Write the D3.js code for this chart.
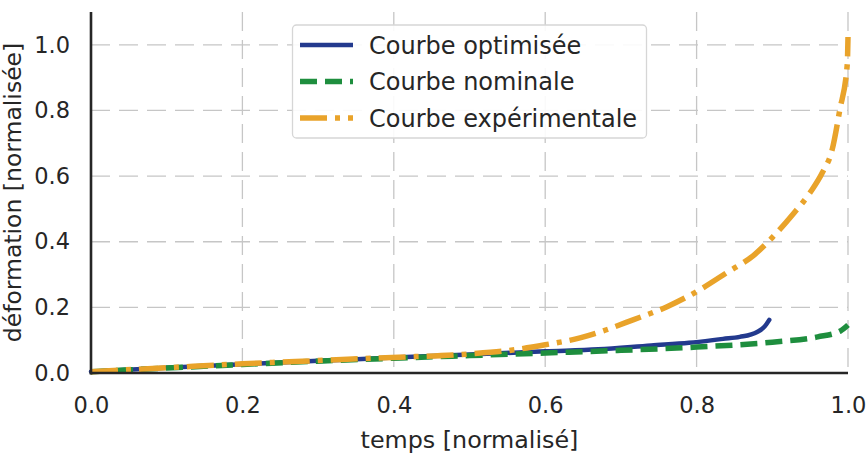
<!DOCTYPE html>
<html>
<head>
<meta charset="utf-8">
<script src="https://cdn.jsdelivr.net/npm/d3@7"></script>
<style>
  body { margin: 0; background: #fff; }
  text { font-family: "DejaVu Sans", sans-serif; fill: #262626; }
</style>
</head>
<body>
<script>
// values
var temps_opt = [0, 0.1, 0.2, 0.3, 0.4, 0.5, 0.6, 0.67, 0.74, 0.79, 0.835, 0.857, 0.88, 0.89, 0.896];
var def_opt   = [0.004, 0.016, 0.027, 0.037, 0.047, 0.056, 0.066, 0.072, 0.084, 0.092, 0.104, 0.11, 0.125, 0.142, 0.162];

var temps_nom = [0, 0.1, 0.2, 0.3, 0.4, 0.5, 0.6, 0.7, 0.8, 0.9, 0.96, 0.99, 1.0];
var def_nom   = [0.004, 0.015, 0.026, 0.036, 0.045, 0.053, 0.061, 0.069, 0.079, 0.094, 0.11, 0.128, 0.146];

var temps_exp = [0, 0.1, 0.2, 0.3, 0.38, 0.5, 0.557, 0.6, 0.646, 0.68, 0.716, 0.761, 0.8, 0.84, 0.875, 0.9, 0.927, 0.95, 0.966, 0.979, 0.989, 0.999, 1.0];
var def_exp   = [0.004, 0.016, 0.028, 0.038, 0.046, 0.058, 0.07, 0.086, 0.107, 0.131, 0.162, 0.202, 0.248, 0.306, 0.358, 0.413, 0.483, 0.55, 0.61, 0.68, 0.8, 0.94, 1.024];

var x_ticks = [0, 0.2, 0.4, 0.6, 0.8, 1.0];
var y_ticks = [0, 0.2, 0.4, 0.6, 0.8, 1.0];

var series_names = ["Courbe optimisée", "Courbe nominale", "Courbe expérimentale"];

function main(){
  var width = 866, height = 456;
  var left = 91, right = 848, top = 12, bottom = 373;

  var x = d3.scaleLinear().domain([0, 1]).range([left, right]);
  var y = d3.scaleLinear().domain([0, 1.1]).range([bottom, top]);

  var svg = d3.select("body").append("svg")
    .attr("width", width)
    .attr("height", height);

  // grid
  svg.append("g").selectAll("line")
    .data(y_ticks).enter().append("line")
    .attr("x1", left).attr("x2", right)
    .attr("y1", d => y(d)).attr("y2", d => y(d))
    .attr("stroke", "#c6c6c6").attr("stroke-width", 1.3)
    .attr("stroke-dasharray", "19,9");

  svg.append("g").selectAll("line")
    .data(x_ticks).enter().append("line")
    .attr("x1", d => x(d)).attr("x2", d => x(d))
    .attr("y1", top).attr("y2", bottom)
    .attr("stroke", "#c6c6c6").attr("stroke-width", 1.3)
    .attr("stroke-dasharray", "19,9");

  var series = [
    {t: temps_opt, v: def_opt, color: "#233a8e", dash: null, lw: 4.5},
    {t: temps_nom, v: def_nom, color: "#1e8e3e", dash: "17,8", lw: 5.5},
    {t: temps_exp, v: def_exp, color: "#e9a32a", dash: "27,8,5,8", lw: 5.5}
  ];

  var line = d3.line()
    .x(d => x(d[0]))
    .y(d => y(d[1]))
    .curve(d3.curveMonotoneX);

  // optimised first, experimental drawn last (on top)
  series.forEach(function(s){
    var pts = s.t.map((t, k) => [t, s.v[k]]);
    svg.append("path")
      .attr("d", line(pts))
      .attr("fill", "none")
      .attr("stroke", s.color)
      .attr("stroke-width", s.lw)
      .attr("stroke-dasharray", s.dash)
      .attr("stroke-linecap", s.dash ? "butt" : "round");
  });

  // axes (left and bottom spines only, no tick marks)
  var xAxis = svg.append("g")
    .attr("transform", "translate(0," + bottom + ")")
    .call(d3.axisBottom(x).tickValues(x_ticks).tickFormat(d3.format(".1f")).tickSize(0).tickPadding(24));
  var yAxis = svg.append("g")
    .attr("transform", "translate(" + left + ",0)")
    .call(d3.axisLeft(y).tickValues(y_ticks).tickFormat(d3.format(".1f")).tickSize(0).tickPadding(21));

  [xAxis, yAxis].forEach(function(a){
    a.select(".domain").remove();
    a.selectAll("text")
      .style("font-size", "22.5px")
      .style("font-family", "DejaVu Sans")
      .attr("fill", "#262626");
  });

  svg.append("line")
    .attr("x1", left).attr("x2", left)
    .attr("y1", top).attr("y2", bottom + 1.5)
    .attr("stroke", "#262626").attr("stroke-width", 2.6);
  svg.append("line")
    .attr("x1", left - 1.3).attr("x2", right)
    .attr("y1", bottom).attr("y2", bottom)
    .attr("stroke", "#262626").attr("stroke-width", 2.6);

  svg.append("text")
    .attr("x", (left + right) / 2)
    .attr("y", 448)
    .attr("text-anchor", "middle")
    .style("font-size", "23.8px")
    .text("temps [normalisé]");

  svg.append("text")
    .attr("transform", "translate(21," + (top + bottom) / 2 + ") rotate(-90)")
    .attr("text-anchor", "middle")
    .style("font-size", "23.5px")
    .text("déformation [normalisée]");

  // legend
  var lg = svg.append("g");
  lg.append("rect")
    .attr("x", 292.5).attr("y", 25)
    .attr("width", 354).attr("height", 113)
    .attr("rx", 4)
    .attr("fill", "#fff").attr("fill-opacity", 0.9)
    .attr("stroke", "#d6d6d6").attr("stroke-width", 1.3);

  var row = lg.selectAll("g.row")
    .data(series).enter().append("g")
    .attr("transform", (d, i) => "translate(0," + (45 + i * 36.5) + ")");

  row.append("line")
    .attr("x1", 300).attr("x2", 353)
    .attr("y1", 0).attr("y2", 0)
    .attr("stroke", d => d.color)
    .attr("stroke-width", d => d.lw)
    .attr("stroke-dasharray", d => d.dash);

  row.append("text")
    .attr("x", 369)
    .attr("dy", "0.36em")
    .style("font-size", "24px")
    .text((d, i) => series_names[i]);
}

main();
</script>
</body>
</html>
